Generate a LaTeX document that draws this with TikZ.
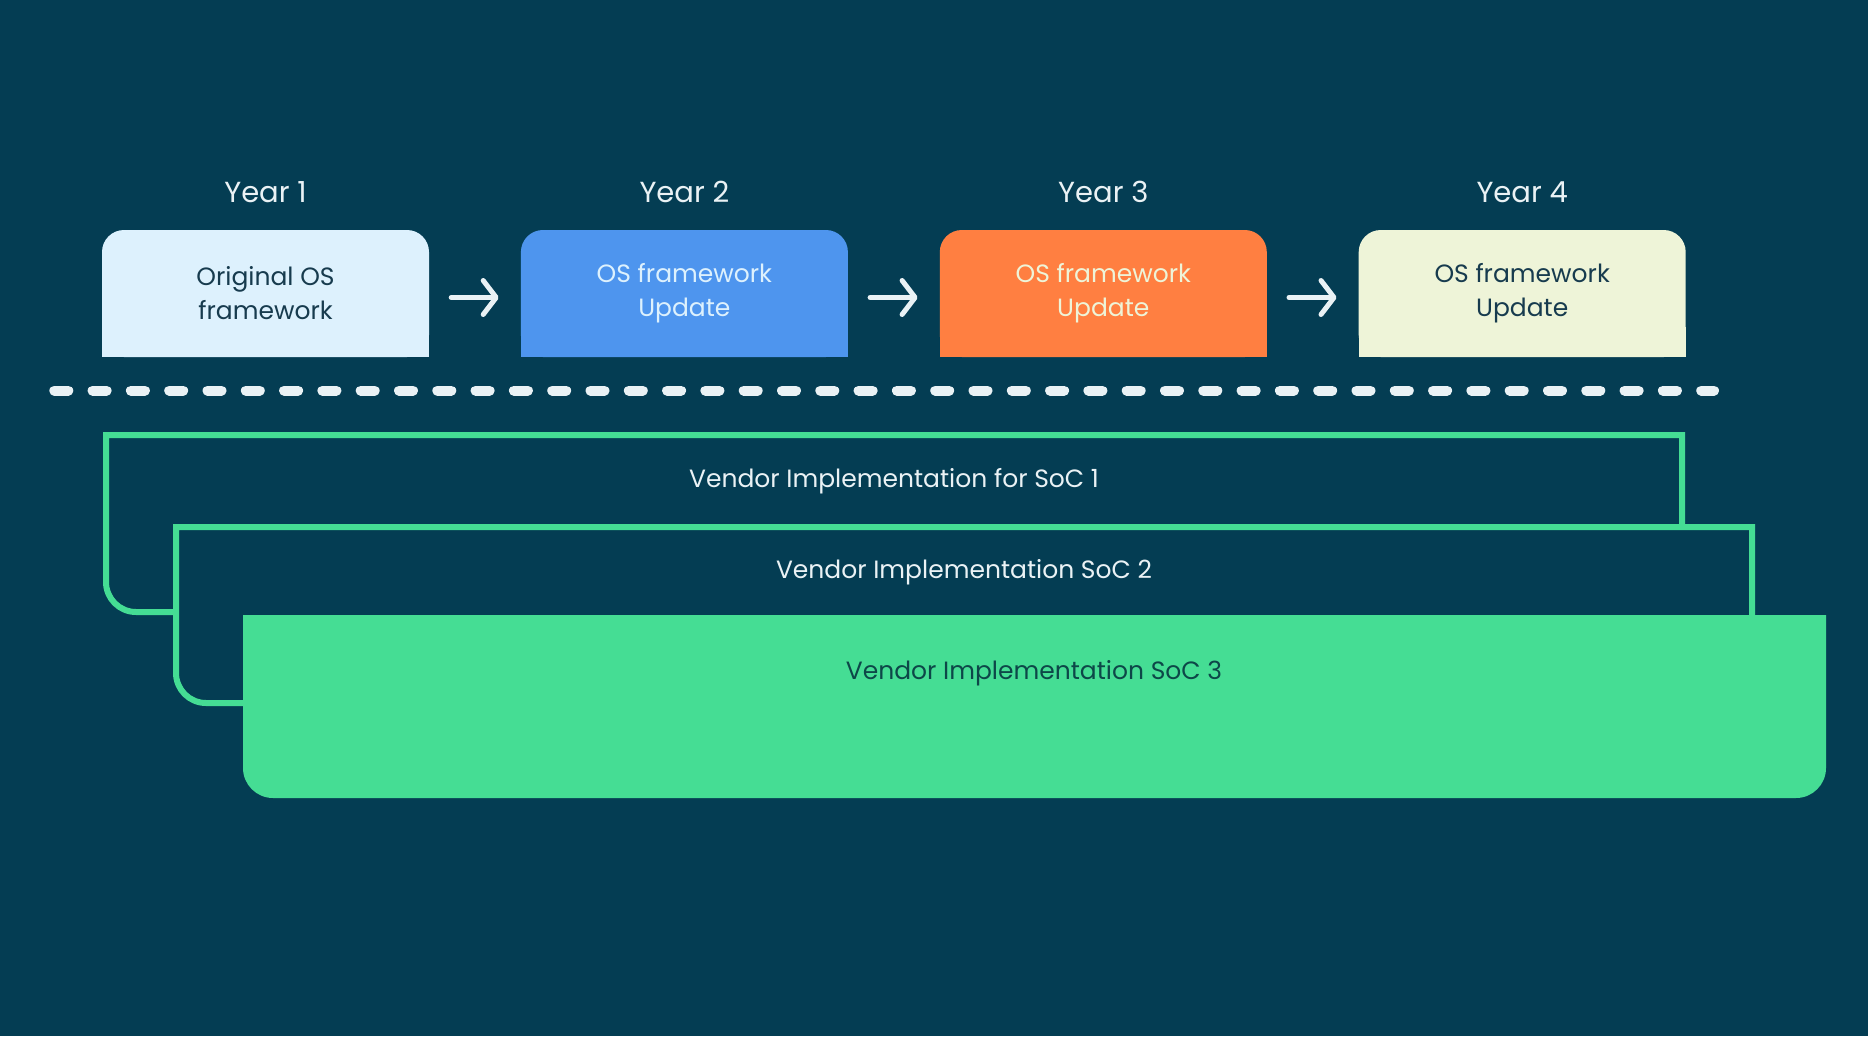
\documentclass[tikz,border=0pt]{standalone}
\usepackage{fontspec}
\setmainfont{Poppins}
\usetikzlibrary{positioning,arrows.meta}

\definecolor{bgblue}{HTML}{043D53}
\definecolor{paper}{HTML}{EAF2F5}
\definecolor{boxa}{HTML}{DDF1FD}
\definecolor{boxb}{HTML}{4E95EE}
\definecolor{boxc}{HTML}{FF7F41}
\definecolor{boxd}{HTML}{EEF4D8}
\definecolor{darktext}{HTML}{173B4E}
\definecolor{soc}{HTML}{45DD94}
\definecolor{soctext}{HTML}{0D4748}

\begin{document}
\begin{tikzpicture}[x=1pt,y=1pt,node distance=91.5pt,
  osbox/.style={minimum width=327pt,minimum height=127pt,inner sep=0pt,
    align=center,rounded corners=22pt,font=\fontsize{25}{34}\selectfont},
  year/.style={text=paper,inner sep=0pt,font=\fontsize{29}{36}\selectfont},
  nextyear/.style={draw=paper,line width=5pt,line cap=round,
    -{Straight Barb[length=13pt,width=34pt,round]},shorten <=22pt,shorten >=22pt},
  frame/.style={draw=soc,line width=6pt,fill=bgblue},
  vendor/.style={inner sep=0pt,anchor=base,font=\fontsize{25}{30}\selectfont}]

\fill[bgblue] (0,0) rectangle (1868,-1036);

% framework releases
\node[osbox,fill=boxa,text=darktext] (os1) at (265.5,-293.5) {Original OS\\framework};
\node[osbox,fill=boxb,text=boxa,right=of os1] (os2) {OS framework\\Update};
\node[osbox,fill=boxc,text=boxd,right=of os2] (os3) {OS framework\\Update};
\node[osbox,fill=boxd,text=darktext,right=of os3] (os4) {OS framework\\Update};
\foreach \n/\c in {os1/boxa,os2/boxb,os3/boxc,os4/boxd}{
  \fill[\c] (\n.south west) rectangle +(30,30);
  \fill[\c] (\n.south east) rectangle +(-30,30);
}
\foreach \i in {1,...,4}
  \node[year,above=27pt of os\i] (yr\i) {Year \i};
\foreach \a/\b in {1/2,2/3,3/4}
  \draw[nextyear] ([yshift=-4pt]os\a.east) -- ([yshift=-4pt]os\b.west);

\draw[paper,line width=10pt,line cap=round,dash pattern=on 14pt off 24.3pt]
  (54.3,-390.5) -- (1714,-390.5);

% vendor implementations
\draw[frame] (1682,-435) -| (106,-582) arc[start angle=180,end angle=270,radius=30]
  -- (1682,-612) -- cycle;
\draw[frame] (1752,-527) -| (176,-673) arc[start angle=180,end angle=270,radius=30]
  -- (1752,-703) -- cycle;
\fill[soc] (243,-615) -- (243,-768) arc[start angle=180,end angle=270,radius=30]
  -- (1796,-798) arc[start angle=270,end angle=360,radius=30] -- (1826,-615) -- cycle;

\node[vendor,text=paper] (soc1) at (894,-487) {Vendor Implementation for SoC 1};
\node[vendor,text=paper] (soc2) at (964,-578) {Vendor Implementation SoC 2};
\node[vendor,text=soctext] (soc3) at (1034,-679) {Vendor Implementation SoC 3};

\end{tikzpicture}
\end{document}
